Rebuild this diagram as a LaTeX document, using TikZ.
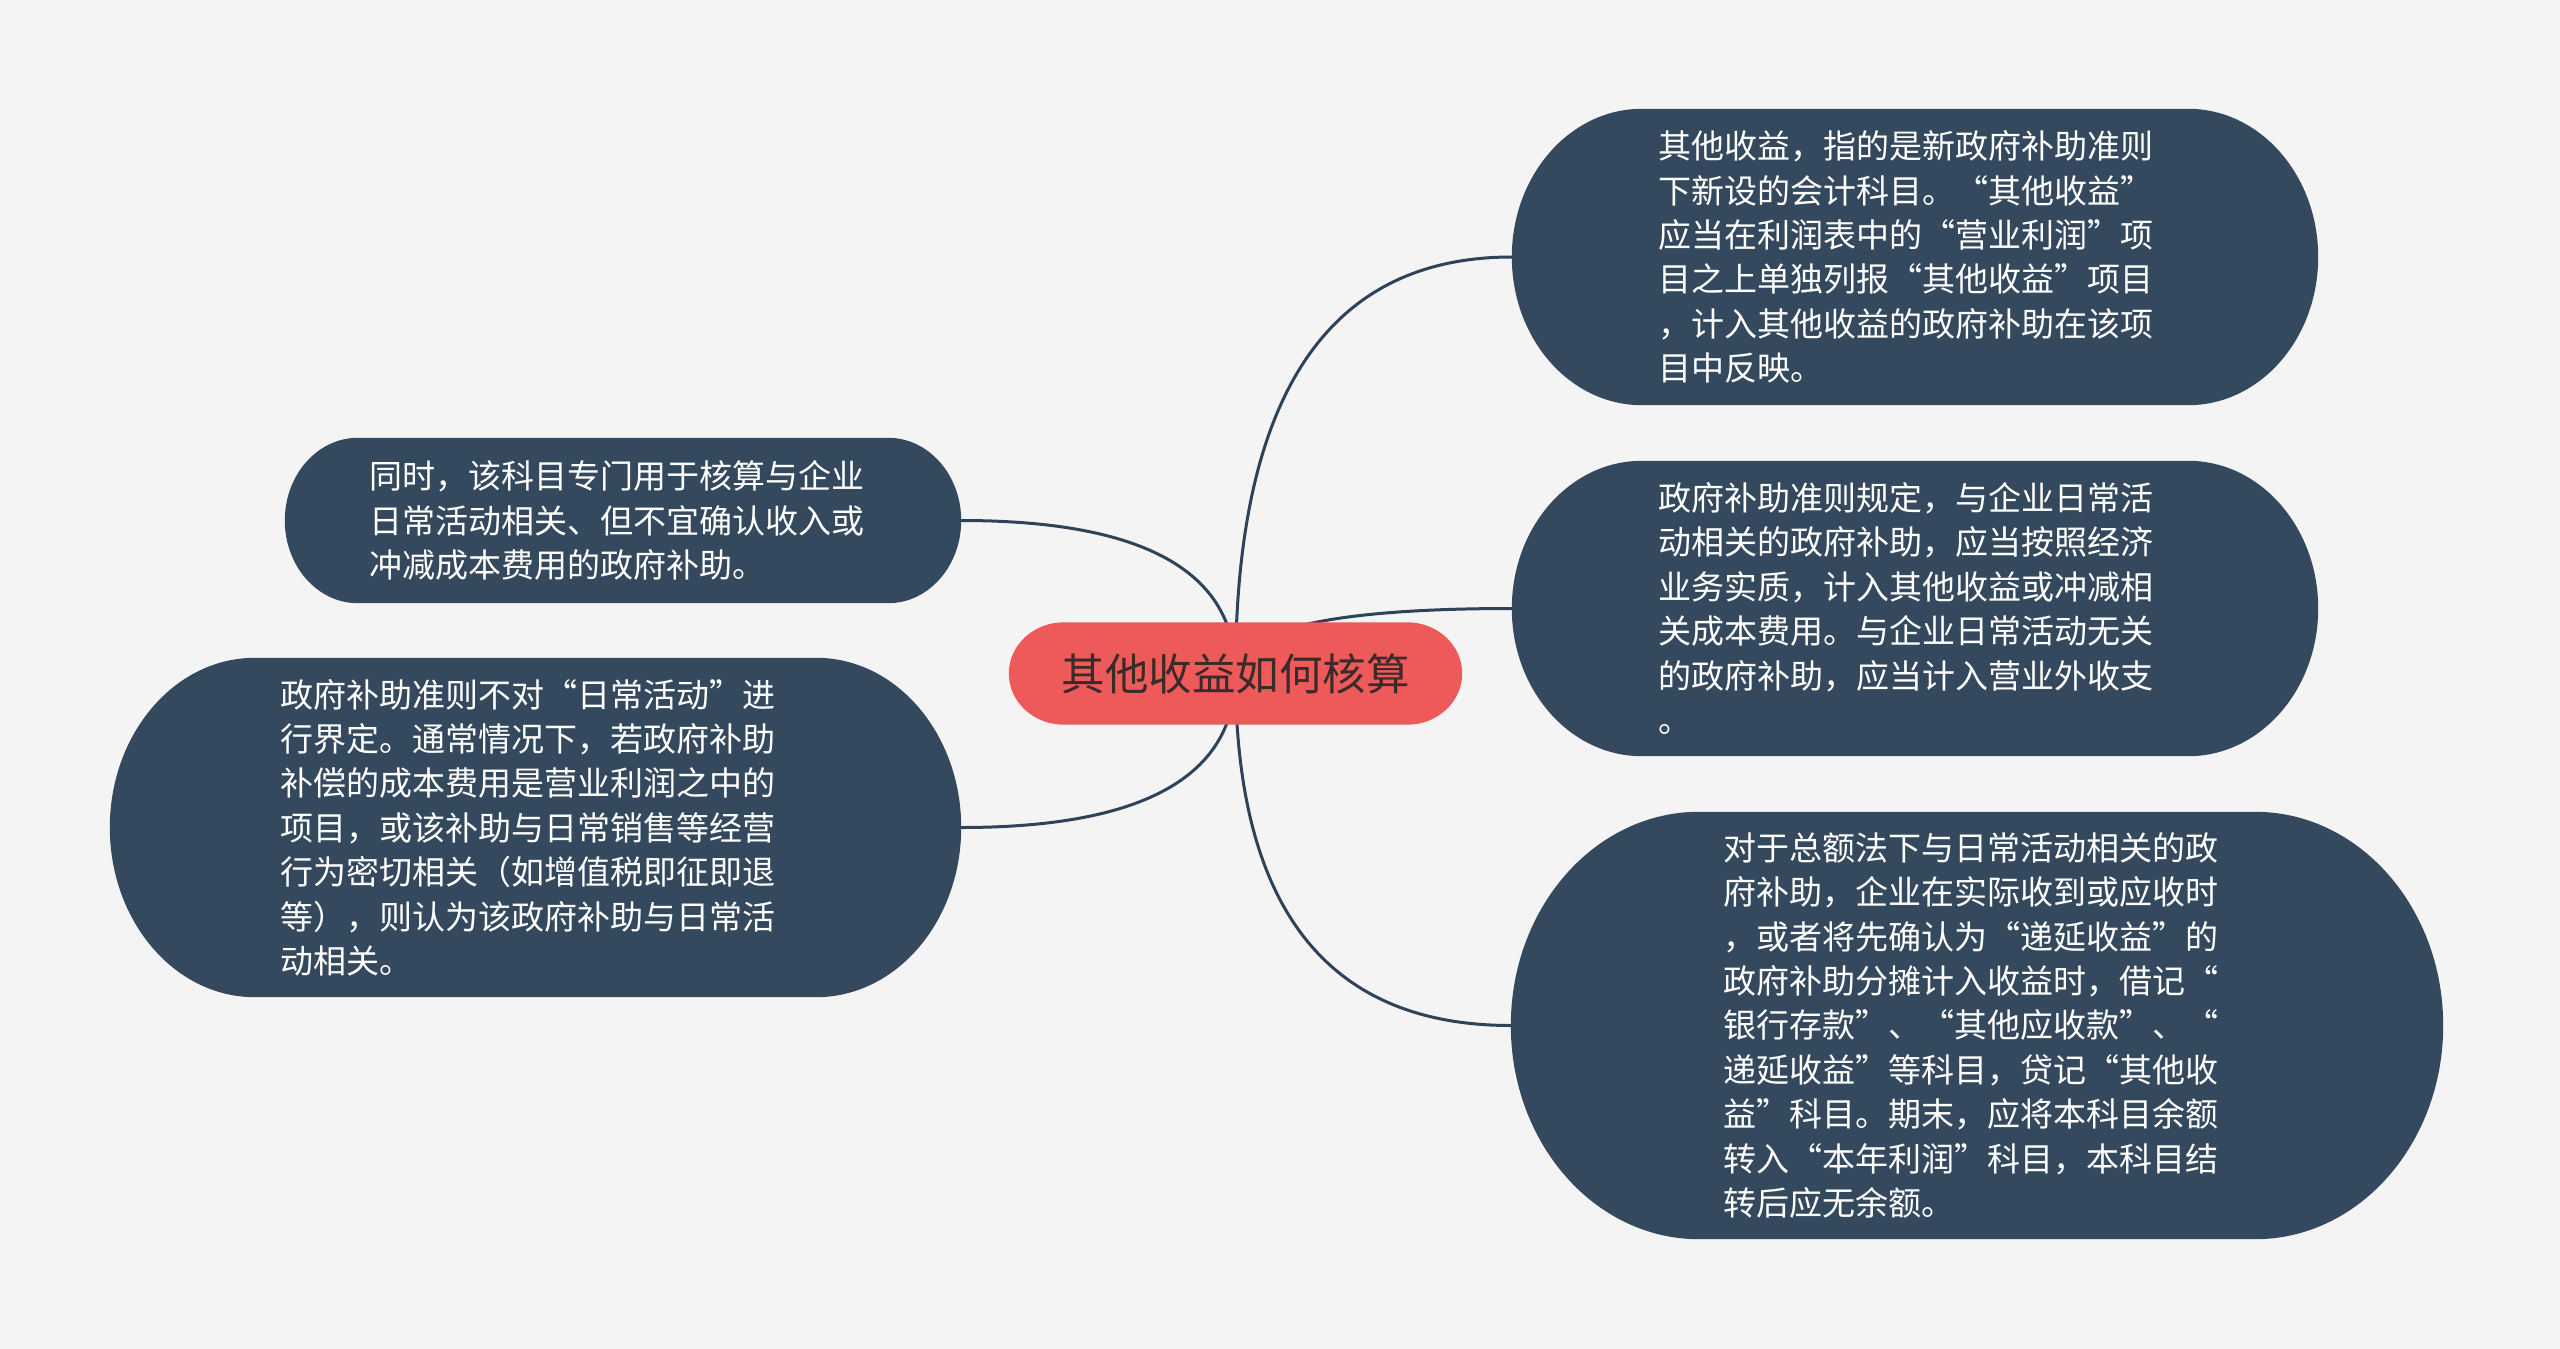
\documentclass[tikz,border=0pt]{standalone}
\usepackage{fontspec}
\newfontfamily\cjk{Noto Sans CJK SC}
\usetikzlibrary{calc}
\definecolor{bgc}{HTML}{F4F4F4}
\definecolor{navy}{HTML}{34495E}
\definecolor{linec}{HTML}{2E4258}
\definecolor{rootc}{HTML}{EE5A5A}
\definecolor{roottext}{HTML}{3A2A2A}
\pgfdeclarelayer{bglayer}
\pgfdeclarelayer{linelayer}
\pgfdeclarelayer{pilllayer}
\pgfsetlayers{bglayer,linelayer,pilllayer,main}
\newcommand\pillshape[3]{%
  \begin{pgfonlayer}{pilllayer}
  \fill[#3] let \p1=(#1.north west), \p2=(#1.south east), \n1={(\y1-\y2)/2} in
    ({\x1+#2pt},\y1) -- ({\x2-#2pt},\y1)
    arc[start angle=90,end angle=-90,x radius=#2pt,y radius=\n1]
    -- ({\x1+#2pt},\y2)
    arc[start angle=270,end angle=90,x radius=#2pt,y radius=\n1] -- cycle;
  \end{pgfonlayer}}
\tikzset{
  leaf/.style={draw=none, inner sep=0pt, text=white, align=left,
    font=\cjk\fontsize{33}{44.4}\selectfont},
  rootnode/.style={draw=none, inner sep=0pt, text=roottext,
    minimum width=453pt, minimum height=102pt,
    font=\cjk\fontsize{43.5}{50}\selectfont},
  conn/.style={draw=linec, line width=3pt},
  branch/.style={to path={.. controls ($(\tikztostart)!2/3!(\tikztostart |- \tikztotarget)$) and ($(\tikztotarget)!2/3!(\tikztostart |- \tikztotarget)$) .. (\tikztotarget)}}
}
\begin{document}
\begin{tikzpicture}[x=1pt,y=1pt]
\useasboundingbox (0,0) rectangle (2560,-1349);
\begin{pgfonlayer}{bglayer}
  \fill[bgc] (0,0) rectangle (2560,-1349);
\end{pgfonlayer}

\node[rootnode] (root) at (1235.5,-673.5) {其他收益如何核算};

\node[leaf, minimum width=806pt, minimum height=296pt, text width=514pt] (tr) at (1915,-257)
  {其他收益，指的是新政府补助准则\\下新设的会计科目。“其他收益”\\应当在利润表中的“营业利润”项\\目之上单独列报“其他收益”项目\\，计入其他收益的政府补助在该项\\目中反映。};

\node[leaf, minimum width=806pt, minimum height=295pt, text width=514pt] (rm) at (1915,-608.5)
  {政府补助准则规定，与企业日常活\\动相关的政府补助，应当按照经济\\业务实质，计入其他收益或冲减相\\关成本费用。与企业日常活动无关\\的政府补助，应当计入营业外收支\\。};

\node[leaf, minimum width=932pt, minimum height=427pt, text width=508pt] (rb) at (1977,-1025.5)
  {对于总额法下与日常活动相关的政\\府补助，企业在实际收到或应收时\\，或者将先确认为“递延收益”的\\政府补助分摊计入收益时，借记“\\银行存款”、“其他应收款”、“\\递延收益”等科目，贷记“其他收\\益”科目。期末，应将本科目余额\\转入“本年利润”科目，本科目结\\转后应无余额。};

\node[leaf, minimum width=676pt, minimum height=165pt, text width=508pt] (la) at (623,-520.5)
  {同时，该科目专门用于核算与企业\\日常活动相关、但不宜确认收入或\\冲减成本费用的政府补助。};

\node[leaf, minimum width=851pt, minimum height=339pt, text width=511pt] (lb) at (535.5,-827.5)
  {政府补助准则不对“日常活动”进\\行界定。通常情况下，若政府补助\\补偿的成本费用是营业利润之中的\\项目，或该补助与日常销售等经营\\行为密切相关（如增值税即征即退\\等），则认为该政府补助与日常活\\动相关。};

\pillshape{root}{55}{rootc}
\pillshape{tr}{130}{navy}
\pillshape{rm}{130}{navy}
\pillshape{rb}{188}{navy}
\pillshape{la}{73}{navy}
\pillshape{lb}{145}{navy}

\begin{pgfonlayer}{linelayer}
  \draw[conn] (root.center) to[branch] (tr.west);
  \draw[conn] (root.center) to[branch] (rm.west);
  \draw[conn] (root.center) to[branch] (rb.west);
  \draw[conn] (root.center) to[branch] (la.east);
  \draw[conn] (root.center) to[branch] (lb.east);
\end{pgfonlayer}
\end{tikzpicture}
\end{document}
